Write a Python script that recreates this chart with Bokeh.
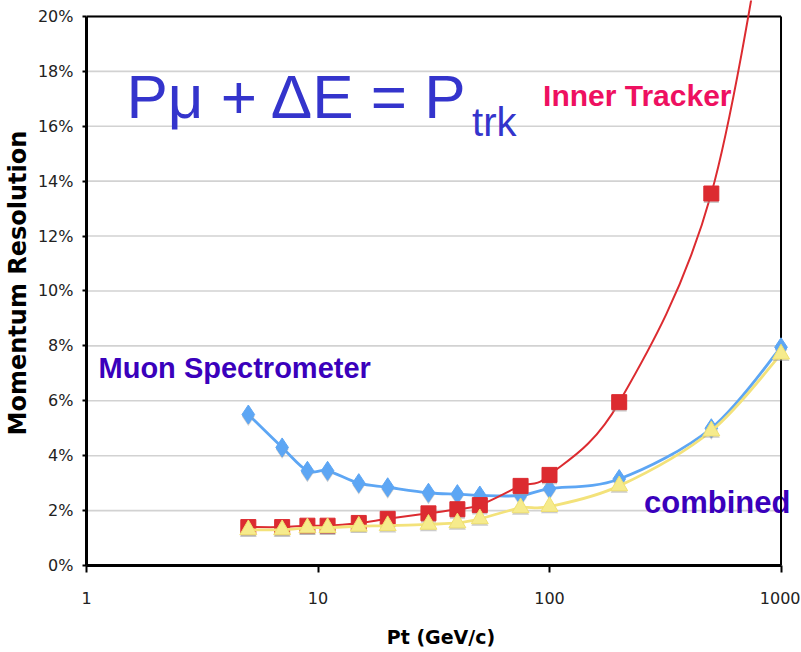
import numpy as np
from bokeh.plotting import figure
from bokeh.models import Range1d, FixedTicker, PrintfTickFormatter, Label, ColumnDataSource
from bokeh.transform import dodge
from bokeh.embed import file_html
from bokeh.resources import INLINE

# ---- data ----
pt = [5, 7, 9, 11, 15, 20, 30, 40, 50, 75, 100, 200, 500, 1000]
muon_spectrometer = [5.5, 4.3, 3.45, 3.45, 3.0, 2.85, 2.65, 2.6, 2.55, 2.55, 2.8, 3.15, 5.0, 7.95]
pt_inner = [5, 7, 9, 11, 15, 20, 30, 40, 50, 75, 100, 200, 500, 1000]
inner_tracker = [1.4, 1.4, 1.45, 1.45, 1.55, 1.7, 1.9, 2.05, 2.2, 2.9, 3.3, 5.95, 13.55, 27.0]
combined = [1.3, 1.3, 1.37, 1.38, 1.43, 1.45, 1.5, 1.55, 1.7, 2.1, 2.15, 2.9, 4.9, 7.7]

x_ticks = [1, 10, 100, 1000]
x_tick_labels = ["1", "10", "100", "1000"]
y_ticks = [0, 2, 4, 6, 8, 10, 12, 14, 16, 18, 20]

BLUE = "#5DA6F4"
RED = "#DC2B30"
YELLOW = "#F6EB8C"


def smooth_bezier(xs, ys):
    """Catmull-Rom style smoothing (like a spreadsheet 'smoothed line'),
    returned as cubic bezier segments; computed in log10(x) space."""
    lx = np.log10(np.asarray(xs, float))
    yy = np.asarray(ys, float)
    n = len(lx)
    d = dict(x0=[], y0=[], x1=[], y1=[], cx0=[], cy0=[], cx1=[], cy1=[])
    for i in range(n - 1):
        p0 = (lx[max(i - 1, 0)], yy[max(i - 1, 0)])
        p1 = (lx[i], yy[i])
        p2 = (lx[i + 1], yy[i + 1])
        p3 = (lx[min(i + 2, n - 1)], yy[min(i + 2, n - 1)])
        c1 = (p1[0] + (p2[0] - p0[0]) / 6, p1[1] + (p2[1] - p0[1]) / 6)
        c2 = (p2[0] - (p3[0] - p1[0]) / 6, p2[1] - (p3[1] - p1[1]) / 6)
        d["x0"].append(10 ** p1[0]); d["y0"].append(p1[1])
        d["x1"].append(10 ** p2[0]); d["y1"].append(p2[1])
        d["cx0"].append(10 ** c1[0]); d["cy0"].append(c1[1])
        d["cx1"].append(10 ** c2[0]); d["cy1"].append(c2[1])
    return ColumnDataSource(d)


X0, X1 = x_ticks[0], x_ticks[-1]
Y0, Y1 = y_ticks[0], y_ticks[-1]

# frame is a bit larger than the drawn chart box so that the red curve and
# the "combined" label may run past the box, as in the original
p = figure(width=800, height=650, x_axis_type="log",
           x_range=Range1d(X0, 1155), y_range=Range1d(Y0, 20.58),
           output_backend="svg", toolbar_location=None,
           min_border_left=85, min_border_right=5, min_border_top=0, min_border_bottom=85)
p.background_fill_color = "white"
p.border_fill_color = "white"
p.outline_line_color = None
p.xgrid.grid_line_color = None
p.ygrid.grid_line_color = None

# grid lines (chart box = 1..1000 x 0..20%)
p.segment(x0=[X0] * len(y_ticks), x1=[X1] * len(y_ticks), y0=y_ticks, y1=y_ticks,
          line_color="#D2D2D2", line_width=1.6, level="underlay")

# annotations (drawn beneath the curves and box, as in the original)
EQ = "#3434CC"
VIOLET = "#3A00BC"
p.add_layout(Label(x=1.488, y=17.09, text="P\u03bc + \u0394E = P", text_font="Liberation Sans",
                   text_font_size="62px", text_color=EQ, text_baseline="alphabetic",
                   level="underlay"))
p.add_layout(Label(x=46.3, y=16.14, text="trk", text_font="Liberation Sans",
                   text_font_size="40px", text_color=EQ, text_baseline="alphabetic",
                   level="underlay"))
p.add_layout(Label(x=93.8, y=17.12, text="Inner Tracker", text_font="Liberation Sans",
                   text_font_style="bold", text_font_size="30px", text_color="#EE1060",
                   text_baseline="alphabetic", level="underlay"))
p.add_layout(Label(x=1.127, y=7.21, text="Muon Spectrometer", text_font="Liberation Sans",
                   text_font_style="bold", text_font_size="29px", text_color=VIOLET,
                   text_baseline="alphabetic", level="underlay"))
p.add_layout(Label(x=255.9, y=2.29, text="combined", text_font="Liberation Sans",
                   text_font_style="bold", text_font_size="31px", text_color=VIOLET,
                   text_baseline="alphabetic", level="underlay"))

# box borders
p.segment(x0=[X0], x1=[X1], y0=[Y1], y1=[Y1], line_color="black", line_width=2)
p.segment(x0=[X1], x1=[X1], y0=[Y0], y1=[Y1], line_color="black", line_width=2)

# axes
p.xaxis.ticker = FixedTicker(ticks=x_ticks, minor_ticks=[])
p.xaxis.major_label_overrides = {t: l for t, l in zip(x_ticks, x_tick_labels)}
p.xaxis.bounds = (X0, X1)
p.yaxis.ticker = FixedTicker(ticks=y_ticks, minor_ticks=[])
p.yaxis.formatter = PrintfTickFormatter(format="%d%%")
p.yaxis.bounds = (Y0, Y1)
for ax in (p.xaxis, p.yaxis):
    ax.axis_line_color = "black"
    ax.axis_line_width = 3
    ax.major_tick_line_color = "black"
    ax.major_tick_line_width = 2
    ax.major_tick_in = 0
    ax.minor_tick_line_color = None
    ax.major_label_text_font = "DejaVu Sans"
    ax.major_label_text_font_size = "16px"
    ax.major_label_text_color = "#222222"
    ax.axis_label_text_font = "DejaVu Sans"
    ax.axis_label_text_font_style = "bold"
    ax.axis_label_text_color = "black"
p.xaxis.major_tick_out = 7
p.xaxis.major_label_standoff = 19
p.xaxis.axis_label = "Pt (GeV/c)"
p.xaxis.axis_label_text_font_size = "19px"
p.xaxis.axis_label_standoff = 19
p.yaxis.major_tick_out = 4
p.yaxis.major_label_standoff = 9
p.yaxis.axis_label = "Momentum Resolution"
p.yaxis.axis_label_text_font_size = "24px"
p.yaxis.axis_label_standoff = 3

SHADOW = "#9A9A9A"

# Muon spectrometer (blue diamonds)
src_b = ColumnDataSource(dict(x=pt, y=muon_spectrometer))
p.bezier(x0="x0", y0="y0", x1="x1", y1="y1", cx0="cx0", cy0="cy0", cx1="cx1", cy1="cy1",
         source=smooth_bezier(pt, muon_spectrometer), line_color=BLUE, line_width=2.8)
p.scatter(x="x", y=dodge("y", -0.07), source=src_b, marker="diamond", size=19,
          fill_color=SHADOW, line_color=None, fill_alpha=0.5)
p.scatter(x="x", y="y", source=src_b, marker="diamond", size=19,
          fill_color=BLUE, line_color=BLUE)

# Inner tracker (red squares)
src_r = ColumnDataSource(dict(x=pt_inner, y=inner_tracker))
p.bezier(x0="x0", y0="y0", x1="x1", y1="y1", cx0="cx0", cy0="cy0", cx1="cx1", cy1="cy1",
         source=smooth_bezier(pt_inner, inner_tracker), line_color=RED, line_width=2)
p.scatter(x="x", y=dodge("y", -0.07), source=src_r, marker="square", size=15,
          fill_color=SHADOW, line_color=None, fill_alpha=0.5)
p.scatter(x="x", y="y", source=src_r, marker="square", size=15,
          fill_color=RED, line_color=RED)

# Combined (yellow triangles)
src_y = ColumnDataSource(dict(x=pt, y=combined))
p.bezier(x0="x0", y0="y0", x1="x1", y1="y1", cx0="cx0", cy0="cy0", cx1="cx1", cy1="cy1",
         source=smooth_bezier(pt, combined), line_color="#F3E27A", line_width=2.8)
p.scatter(x="x", y=dodge("y", -0.07), source=src_y, marker="triangle", size=17,
          fill_color=SHADOW, line_color=None, fill_alpha=0.5)
p.scatter(x="x", y="y", source=src_y, marker="triangle", size=17,
          fill_color=YELLOW, line_color="#F0E070")

open("out.html", "w").write(file_html(p, INLINE))
